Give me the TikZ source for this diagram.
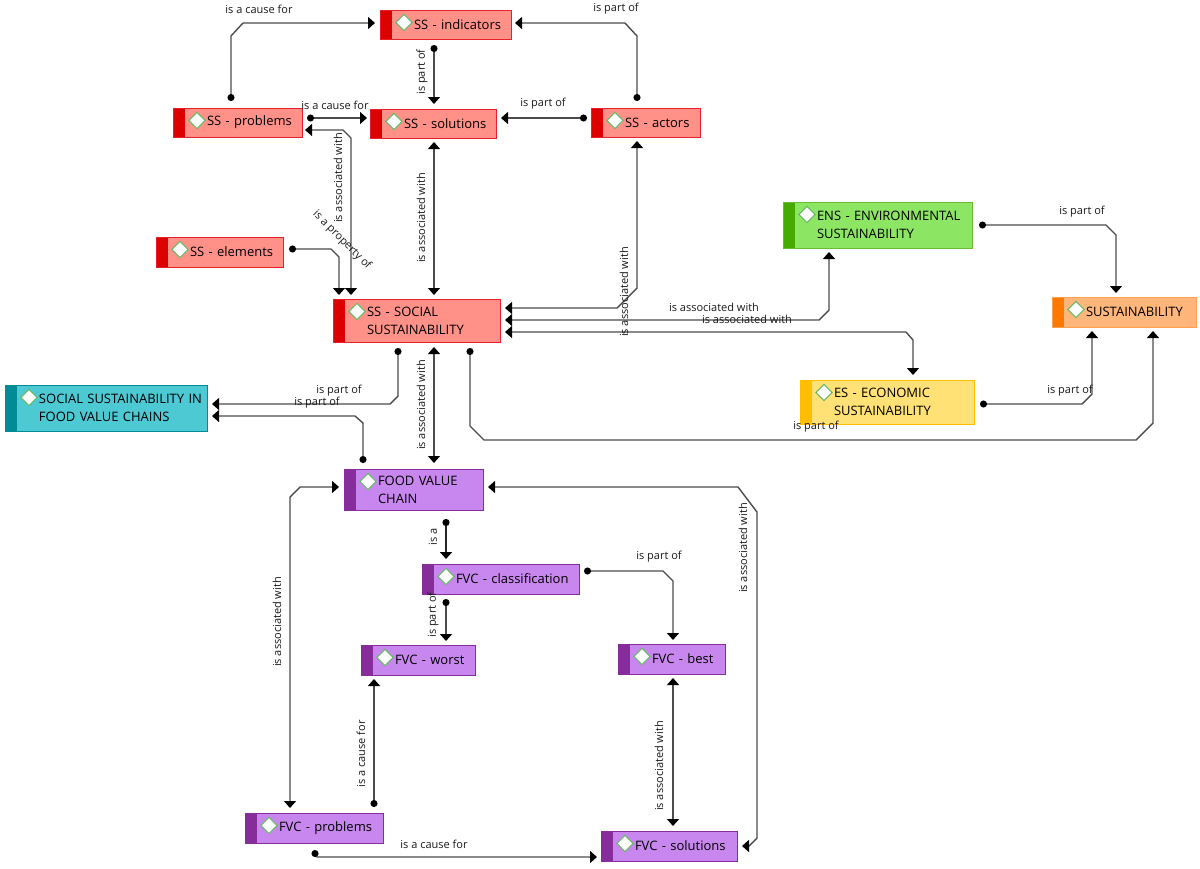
\documentclass[tikz,border=0pt]{standalone}
\usepackage{fontspec}
\setmainfont{Open Sans}
\usetikzlibrary{
  arrows.meta,
}
\definecolor{ssfill}{HTML}{FF9188}
\definecolor{ssband}{HTML}{DC0000}
\definecolor{ssedge}{HTML}{E8202A}
\definecolor{tealfill}{HTML}{4CC9D3}
\definecolor{tealband}{HTML}{008C96}
\definecolor{greenfill}{HTML}{8CE664}
\definecolor{greenband}{HTML}{46AA00}
\definecolor{orangefill}{HTML}{FFB67A}
\definecolor{orangeband}{HTML}{FF7800}
\definecolor{yellowfill}{HTML}{FFE175}
\definecolor{yellowband}{HTML}{FFBE00}
\definecolor{fvcfill}{HTML}{C887EE}
\definecolor{fvcband}{HTML}{872D9B}

\begin{document}
\begin{tikzpicture}[
  x=1pt,
  y=-1pt,
  concept/.style n args={3}{
    draw=#3,
    line width=1pt,
    fill=#1,
    inner sep=0pt,
    outer sep=0pt,
    font={\fontsize{13}{18}\selectfont},
    text=black,
    execute at begin node={\leftskip=34pt\rightskip=0pt plus 1fil\relax},
    path picture={
      \fill[#2] (path picture bounding box.south west) rectangle
        ([xshift=11.5pt]path picture bounding box.north west);
    },
  },
  ss/.style={concept={ssfill}{ssband}{ssedge}},
  teal/.style={concept={tealfill}{tealband}{tealband}},
  ens/.style={concept={greenfill}{greenband}{greenband!80!white}},
  top/.style={concept={orangefill}{orangeband}{orangeband!70!white}},
  econ/.style={concept={yellowfill}{yellowband}{yellowband}},
  fvc/.style={concept={fvcfill}{fvcband}{fvcband}},
  knob/.style={
    draw=green!55!black!60,
    line width=1pt,
    fill=white,
    shape=rectangle,
    rotate=45,
    inner sep=0pt,
    minimum size=11.5pt,
  },
  link/.style={
    draw=black!70,
    line width=1.4pt,
    {Circle[length=7pt,black]}-{Triangle[width=12pt,length=7pt,black]},
  },
  both/.style={
    link,
    {Triangle[width=12pt,length=7pt,black]}-{Triangle[width=12pt,length=7pt,black]},
  },
  word/.style={
    font={\fontsize{11}{13}\selectfont},
    text=black!90,
    inner sep=0pt,
  },
]
  \useasboundingbox (0,0) rectangle (1200,868);

  %%%%%%%%%%%%%%%%%%%% SOCIAL %%%%%%%%%%%%%%%%%%%%

  \node[ss, text width=131pt, minimum height=29pt] (ssind) at (445.5,24.5) {SS - indicators};
  \node[ss, text width=129pt, minimum height=29pt] (ssprob) at (237.5,122.5) {SS - problems};
  \node[ss, text width=126pt, minimum height=29pt] (sssol) at (433,123.5) {SS - solutions};
  \node[ss, text width=109pt, minimum height=29pt] (ssact) at (645.5,122.5) {SS - actors};
  \node[ss, text width=127pt, minimum height=30pt] (ssele) at (219.5,252) {SS - elements};
  \node[ss, text width=167pt, minimum height=43pt] (sssoc) at (416.5,320.5) {SS - SOCIAL\\SUSTAINABILITY};

  %%%%%%%%%%%%%%%%%%%% OTHER %%%%%%%%%%%%%%%%%%%%

  \node[teal, text width=202pt, minimum height=46pt] (sfvc) at (106,408) {SOCIAL SUSTAINABILITY IN\\FOOD VALUE CHAINS};
  \node[ens, text width=189pt, minimum height=46pt] (ens) at (877.5,225) {ENS - ENVIRONMENTAL\\SUSTAINABILITY};
  \node[top, text width=144pt, minimum height=30pt] (sust) at (1124,312) {SUSTAINABILITY};
  \node[econ, text width=174pt, minimum height=44pt] (es) at (887,402) {ES - ECONOMIC\\SUSTAINABILITY};

  %%%%%%%%%%%%%%%%%%%% FVC %%%%%%%%%%%%%%%%%%%%

  \node[fvc, text width=139pt, minimum height=41pt] (food) at (413.5,489.5) {FOOD VALUE\\CHAIN};
  \node[fvc, text width=157pt, minimum height=30pt] (fvcclass) at (500.5,579) {FVC - classification};
  \node[fvc, text width=114pt, minimum height=30pt] (fvcworst) at (418,660) {FVC - worst};
  \node[fvc, text width=107pt, minimum height=30pt] (fvcbest) at (671.5,659) {FVC - best};
  \node[fvc, text width=138pt, minimum height=30pt] (fvcprob) at (314,828) {FVC - problems};
  \node[fvc, text width=136pt, minimum height=30pt] (fvcsol) at (669,846) {FVC - solutions};

  \foreach \n in {ssind,ssprob,sssol,ssact,ssele,sssoc,sfvc,ens,sust,es,food,fvcclass,fvcworst,fvcbest,fvcprob,fvcsol} {
    \node[knob] (\n-knob) at ([shift={(24,12.5)}]\n.north west) {};
  }

  %%%%%%%%%%%%%%%%%%%% Connectors %%%%%%%%%%%%%%%%%%%%

  \draw[link] ([shift={(-6.5,-7)}]ssprob.north) -- ++(0,-65) -- ++(12,-13) -- ([shift={(-5,-1.5)}]ssind.west);
  \draw[link] ([shift={(-11.5,6)}]ssind.south) -- ([shift={(1,-5)}]sssol.north);
  \draw[link] ([shift={(-8.5,-7)}]ssact.north) -- ++(0,-65) -- ++(-12,-13) -- ([shift={(4,-1.5)}]ssind.east);
  \draw[link] ([shift={(-4,-4.5)}]ssact.west) -- ([shift={(5,-5.5)}]sssol.east);
  \draw[link] ([shift={(5,-4.5)}]ssprob.east) -- ([shift={(-3,-5.5)}]sssol.west);
  \draw[both] ([shift={(3,7.5)}]ssprob.east) -- ++(38,0) -- ++(8,8) -- ([shift={(-65.5,-4)}]sssoc.north);
  \draw[link] ([shift={(6,-3)}]ssele.east) -- ++(42,0) -- ++(8,8) -- ([shift={(-77.5,-4)}]sssoc.north);
  \draw[both] ([shift={(1,4)}]sssol.south) -- ([shift={(17.5,-4)}]sssoc.north);
  \draw[both] ([shift={(-8.5,4)}]ssact.south) -- ++(0,147) -- ++(-20,20) -- ([shift={(5,-12.5)}]sssoc.east);
  \draw[both] ([shift={(5,-0.5)}]sssoc.east) -- ++(314,0) -- ++(10,-10) -- ([shift={(-48.5,4)}]ens.south);
  \draw[both] ([shift={(5,11.5)}]sssoc.east) -- ++(401,0) -- ++(7,8) -- ([shift={(26,-5)}]es.north);
  \draw[link] ([shift={(7,0)}]ens.east) -- ++(127,0) -- ++(10,10) -- ([shift={(-8,-4)}]sust.north);
  \draw[link] ([shift={(6,2)}]es.east) -- ++(102,0) -- ++(10,-10) -- ([shift={(-32,4)}]sust.south);
  \draw[link] ([shift={(53.5,6)}]sssoc.south) -- ++(0,78) -- ++(14,14) -- ++(652,0) -- ++(17,-17) -- ([shift={(29,4)}]sust.south);
  \draw[link] ([shift={(-18.5,6)}]sssoc.south) -- ++(0,48) -- ++(-8,8) -- ([shift={(5,-4)}]sfvc.east);
  \draw[link] ([shift={(-50.5,-6)}]food.north) -- ++(0,-40) -- ++(-8,-7) -- ([shift={(5,8)}]sfvc.east);
  \draw[both] ([shift={(17.5,5)}]sssoc.south) -- ([shift={(20.5,-6)}]food.north);
  \draw[link,line width=2.2pt,draw=black!85] ([shift={(32.5,9)}]food.south) -- ([shift={(-54.5,-5)}]fvcclass.north);
  \draw[link] ([shift={(-54.5,5)}]fvcclass.south) -- ([shift={(28,-4)}]fvcworst.north);
  \draw[link] ([shift={(5,-8)}]fvcclass.east) -- ++(79,0) -- ++(10,10) -- ([shift={(1.5,-4)}]fvcbest.north);
  \draw[both] ([shift={(-5,-2.5)}]food.west) -- ++(-39,0) -- ++(-10,10) -- ([shift={(-24,-5)}]fvcprob.north);
  \draw[link] ([shift={(60,-6)}]fvcprob.north) -- ([shift={(-44,4)}]fvcworst.south);
  \draw[both] ([shift={(1.5,4)}]fvcbest.south) -- ([shift={(4,-5)}]fvcsol.north);
  \draw[both] ([shift={(5,-2.5)}]food.east) -- ++(250,0) -- ++(19,25) -- ++(0,326) -- ++(-8,8) -- ([shift={(5,0)}]fvcsol.east);
  \draw[link] ([shift={(1,7)}]fvcprob.south) -- ++(0,5) -- ++(2,2) -- ([shift={(-4,11)}]fvcsol.west);

  %%%%%%%%%%%%%%%%%%%% Labels %%%%%%%%%%%%%%%%%%%%

  \foreach \n/\x/\y/\r/\t in {
    a/259/9/0/is a cause for,
    b/422/72/90/is part of,
    c/616/9/0/is part of,
    d/543/104/0/is part of,
    e/335/105/0/is a cause for,
    f/338/178/90/is associated with,
    g/342/240/-45/is a property of,
    h/421/218/90/is associated with,
    i/624/292/90/is associated with,
    j/714/307/0/is associated with,
    k/747/319/0/is associated with,
    l/1082/212/0/is part of,
    m/1070/391/0/is part of,
    n/816/427/0/is part of,
    o/339/391/0/is part of,
    p/317/403/0/is part of,
    q/421/405/90/is associated with,
    r/433/537/90/is a,
    s/433/615/90/is part of,
    t/659/557/0/is part of,
    u/277/622/90/is associated with,
    v/361/754/90/is a cause for,
    w/659/766/90/is associated with,
    x/743/548/90/is associated with,
    y/434/844/0/is a cause for%
  } {
    \node[word, rotate=\r] (word-\n) at (\x,\y) {\t};
  }
\end{tikzpicture}
\end{document}
